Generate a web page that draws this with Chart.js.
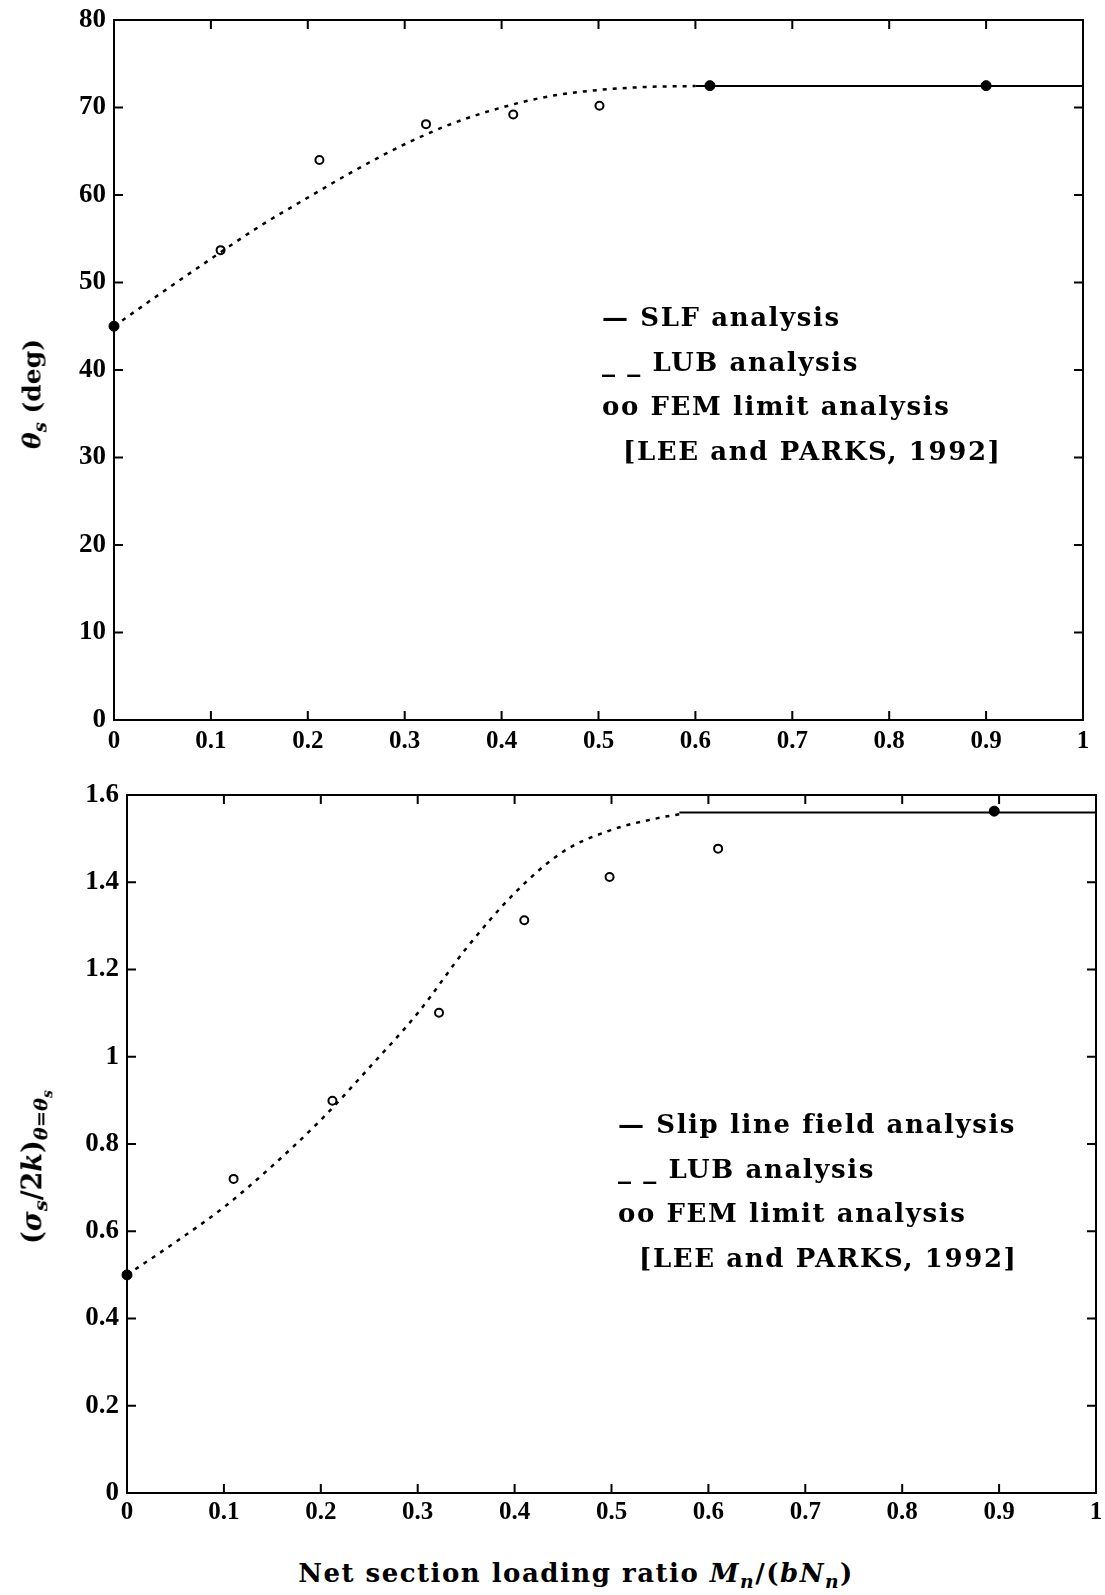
<!DOCTYPE html>
<html>
<head>
<meta charset="utf-8">
<script src="https://cdn.jsdelivr.net/npm/chart.js@4.4.1/dist/chart.umd.min.js"></script>
<style>
  body { margin: 0; background: #fff; }
  #page { position: relative; width: 1105px; height: 1595px; overflow: hidden; font-family: "DejaVu Serif", serif; font-weight: bold; color: #000; }
  canvas { position: absolute; left: 0; }
  .legend { position: absolute; font-size: 26px; letter-spacing: 1.6px; line-height: 44.5px; white-space: nowrap; }
  .legend .ref { padding-left: 21px; }
  .ytitle { position: absolute; white-space: nowrap; font-size: 25px; transform: translate(-50%, -50%) rotate(-90deg); }
  .xtitle { position: absolute; white-space: nowrap; font-size: 26px; letter-spacing: 1.5px; transform: translate(-50%, -50%); }
  sub { font-size: 72%; }
</style>
</head>
<body>
<div id="page">
  <canvas id="topChart" width="1105" height="770" style="top:0"></canvas>
  <canvas id="botChart" width="1105" height="790" style="top:760px"></canvas>

  <div class="ytitle" style="left:34px; top:394px"><i>θ<sub>s</sub></i> (deg)</div>
  <div class="legend" style="left:602px; top:295px">
    <div>— SLF analysis</div>
    <div>_ _ LUB analysis</div>
    <div>oo FEM limit analysis</div>
    <div class="ref">[LEE and PARKS, 1992]</div>
  </div>

  <div class="ytitle" style="left:36px; top:1167px; font-size:27px">(<i>σ<sub>s</sub></i>/2<i>k</i>)<sub><i>θ</i>=<i>θ<sub>s</sub></i></sub></div>
  <div class="legend" style="left:618px; top:1102px">
    <div>— Slip line field analysis</div>
    <div>_ _ LUB analysis</div>
    <div>oo FEM limit analysis</div>
    <div class="ref">[LEE and PARKS, 1992]</div>
  </div>

  <div class="xtitle" style="left:576px; top:1575px">Net section loading ratio <i>M<sub>n</sub></i>/(<i>bN<sub>n</sub></i>)</div>
</div>

<script>
// shared x axis
const xTicks = [0, 0.1, 0.2, 0.3, 0.4, 0.5, 0.6, 0.7, 0.8, 0.9, 1];
const xTickLabels = ['0', '0.1', '0.2', '0.3', '0.4', '0.5', '0.6', '0.7', '0.8', '0.9', '1'];

// top panel: theta_s (deg)
const thetaTicks = [0, 10, 20, 30, 40, 50, 60, 70, 80];
const thetaTickLabels = ['0', '10', '20', '30', '40', '50', '60', '70', '80'];
const lubX = [0, 0.05, 0.1, 0.15, 0.2, 0.25, 0.3, 0.35, 0.4, 0.45, 0.5, 0.55, 0.6];
const lubTheta = [45, 48.9, 52.7, 56.4, 59.7, 62.9, 65.8, 68.2, 70.0, 71.3, 72.0, 72.35, 72.45];
const slfX = [0.6, 1];
const slfTheta = [72.45, 72.45];
const slfDotX = [0, 0.615, 0.9];
const slfDotTheta = [45, 72.5, 72.5];
const femX = [0.11, 0.212, 0.322, 0.412, 0.501];
const femTheta = [53.7, 64.0, 68.1, 69.2, 70.2];

// bottom panel: (sigma_s/2k)
const sigTicks = [0, 0.2, 0.4, 0.6, 0.8, 1, 1.2, 1.4, 1.6];
const sigTickLabels = ['0', '0.2', '0.4', '0.6', '0.8', '1', '1.2', '1.4', '1.6'];
const lubX2 = [0, 0.05, 0.1, 0.15, 0.2, 0.25, 0.3, 0.35, 0.4, 0.45, 0.5, 0.55, 0.57];
const lubSig = [0.5, 0.575, 0.655, 0.75, 0.855, 0.975, 1.10, 1.248, 1.375, 1.47, 1.52, 1.548, 1.556];
const slfX2 = [0.57, 1];
const slfSig = [1.56, 1.56];
const slfDotX2 = [0, 0.895];
const slfDotSig = [0.5, 1.563];
const femX2 = [0.11, 0.212, 0.322, 0.41, 0.498, 0.61];
const femSig = [0.72, 0.899, 1.101, 1.313, 1.412, 1.477];

const pts = (xs, ys) => xs.map((x, i) => ({ x: x, y: ys[i] }));

// box frame with inward ticks on all four sides
const framePlugin = {
  id: 'frame',
  afterDraw(chart) {
    const ctx = chart.ctx;
    const a = chart.chartArea;
    const xs = chart.scales.x, ys = chart.scales.y;
    const len = 9;
    ctx.save();
    ctx.strokeStyle = '#000';
    ctx.lineWidth = 2;
    ctx.strokeRect(a.left, a.top, a.right - a.left, a.bottom - a.top);
    ctx.beginPath();
    xs.ticks.forEach(t => {
      const p = xs.getPixelForValue(t.value);
      if (p <= a.left + 1 || p >= a.right - 1) return;
      ctx.moveTo(p, a.bottom); ctx.lineTo(p, a.bottom - len);
      ctx.moveTo(p, a.top); ctx.lineTo(p, a.top + len);
    });
    ys.ticks.forEach(t => {
      const p = ys.getPixelForValue(t.value);
      if (p <= a.top + 1 || p >= a.bottom - 1) return;
      ctx.moveTo(a.left, p); ctx.lineTo(a.left + len, p);
      ctx.moveTo(a.right, p); ctx.lineTo(a.right - len, p);
    });
    ctx.stroke();
    ctx.restore();
  }
};

function makeChart(id, cfg) {
  return new Chart(document.getElementById(id), {
    type: 'scatter',
    data: {
      datasets: [
        {
          label: 'LUB analysis',
          data: pts(cfg.lubX, cfg.lubY),
          showLine: true,
          borderColor: '#000',
          borderWidth: 2.5,
          borderDash: [4, 6],
          cubicInterpolationMode: 'monotone',
          pointRadius: 0
        },
        {
          label: 'SLF analysis',
          data: pts(cfg.slfX, cfg.slfY),
          showLine: true,
          borderColor: '#000',
          borderWidth: 2,
          pointRadius: 0
        },
        {
          label: 'SLF points',
          data: pts(cfg.dotX, cfg.dotY),
          backgroundColor: '#000',
          borderColor: '#000',
          pointRadius: 5
        },
        {
          label: 'FEM limit analysis',
          data: pts(cfg.femX, cfg.femY),
          backgroundColor: '#fff',
          borderColor: '#000',
          borderWidth: 2,
          pointRadius: 4
        }
      ]
    },
    options: {
      responsive: false,
      animation: false,
      clip: false,
      layout: { padding: cfg.padding },
      plugins: { legend: { display: false }, tooltip: { enabled: false } },
      scales: {
        x: {
          type: 'linear', min: 0, max: 1,
          border: { display: false },
          grid: { display: false, drawTicks: false },
          afterBuildTicks: s => { s.ticks = xTicks.map(v => ({ value: v })); },
          afterFit: s => { s.height = cfg.xHeight; s.paddingLeft = 0; s.paddingRight = 0; },
          ticks: {
            color: '#000', padding: cfg.xPad, maxRotation: 0, autoSkip: false,
            font: { family: 'Liberation Serif', size: 25, weight: 'bold' },
            callback: (v) => xTickLabels[xTicks.indexOf(v)]
          }
        },
        y: {
          type: 'linear', min: cfg.yMin, max: cfg.yMax,
          border: { display: false },
          grid: { display: false, drawTicks: false },
          afterBuildTicks: s => { s.ticks = cfg.yTicks.map(v => ({ value: v })); },
          afterFit: s => { s.width = cfg.yWidth; s.paddingTop = 0; s.paddingBottom = 0; },
          ticks: {
            color: '#000', padding: 8, autoSkip: false,
            font: { family: 'Liberation Serif', size: 27, weight: 'bold' },
            callback: (v) => cfg.yLabels[cfg.yTicks.indexOf(v)]
          }
        }
      }
    },
    plugins: [framePlugin]
  });
}

makeChart('topChart', {
  lubX: lubX, lubY: lubTheta,
  slfX: slfX, slfY: slfTheta,
  dotX: slfDotX, dotY: slfDotTheta,
  femX: femX, femY: femTheta,
  yMin: 0, yMax: 80, yTicks: thetaTicks, yLabels: thetaTickLabels,
  padding: { top: 20, right: 22, left: 0, bottom: 0 },
  yWidth: 114, xHeight: 50, xPad: 7
});

makeChart('botChart', {
  lubX: lubX2, lubY: lubSig,
  slfX: slfX2, slfY: slfSig,
  dotX: slfDotX2, dotY: slfDotSig,
  femX: femX2, femY: femSig,
  yMin: 0, yMax: 1.6, yTicks: sigTicks, yLabels: sigTickLabels,
  padding: { top: 35, right: 9, left: 0, bottom: 0 },
  yWidth: 127, xHeight: 57, xPad: 5
});
</script>
</body>
</html>
